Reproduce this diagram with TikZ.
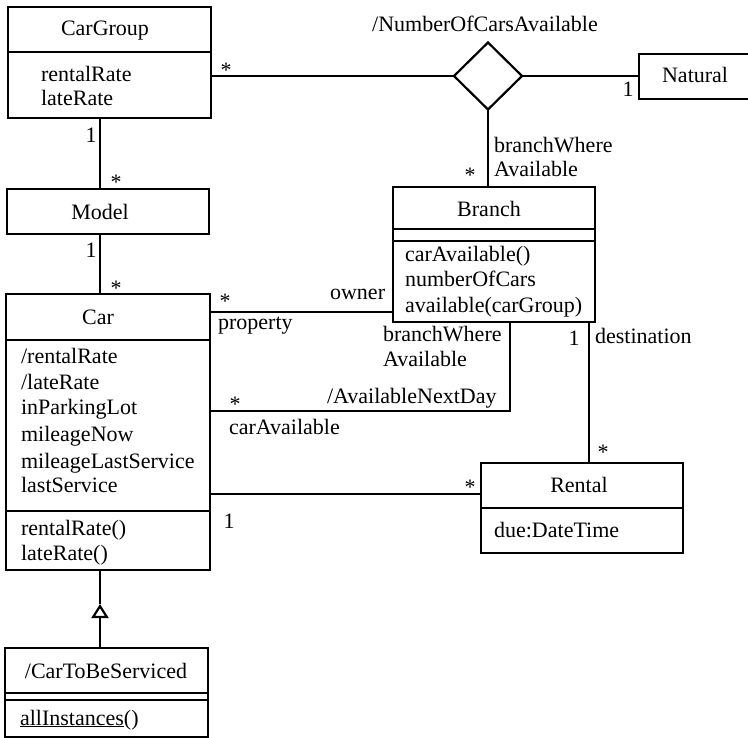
\documentclass[tikz,border=0pt]{standalone}
\usepackage{fontspec}
\setmainfont{Liberation Serif}
\usetikzlibrary{arrows.meta,shapes.geometric}
\begin{document}
\begin{tikzpicture}[x=1pt,y=-1pt, line width=2.2pt,
  font=\fontsize{22}{26}\selectfont,
  box/.style={draw, inner sep=0pt, outer sep=0pt, anchor=north west},
  tc/.style={inner sep=0pt, anchor=base},
  tl/.style={inner sep=0pt, anchor=base west},
  gen/.style={-{Triangle[open,length=14pt,width=17pt]}}]
\useasboundingbox (0,0) rectangle (748,738);

% ---------- class boxes ----------
\node[box, minimum width=203pt, minimum height=111pt] (cargroup) at (8,7) {};
\draw (cargroup.west |- 0,52) -- (cargroup.east |- 0,52);
\node[box, minimum width=202pt, minimum height=45pt] (model) at (7,189) {};
\node[box, minimum width=204pt, minimum height=276pt] (car) at (6,294) {};
\draw (car.west |- 0,340) -- (car.east |- 0,340);
\draw (car.west |- 0,511) -- (car.east |- 0,511);
\node[box, minimum width=203pt, minimum height=89pt] (cts) at (5,648) {};
\draw (cts.west |- 0,693) -- (cts.east |- 0,693);
\draw (cts.west |- 0,700) -- (cts.east |- 0,700);
\node[box, minimum width=202pt, minimum height=135pt] (branch) at (393,187) {};
\draw (branch.west |- 0,229) -- (branch.east |- 0,229);
\draw (branch.west |- 0,241) -- (branch.east |- 0,241);
\node[box, minimum width=202pt, minimum height=90pt] (rental) at (481,463) {};
\draw (rental.west |- 0,508) -- (rental.east |- 0,508);
\node[box, minimum width=125pt, minimum height=45pt] (natural) at (639,54) {};
\node[draw, diamond, inner sep=0pt, outer sep=0pt, minimum width=68pt, minimum height=67pt] (nca) at (488,76) {};

% ---------- texts in boxes ----------
\node[tc] (cgname) at (105,36) {CarGroup};
\node[tl] (cga1) at (40,82) {rentalRate};
\node[tl] (cga2) at (40,106) {lateRate};
\node[tc] (modelname) at (100,220) {Model};
\node[tc] (carname) at (98,325) {Car};
\node[tl] (ca1) at (20,364) {/rentalRate};
\node[tl] (ca2) at (20,390) {/lateRate};
\node[tl] (ca3) at (20,415) {inParkingLot};
\node[tl] (ca4) at (20,442) {mileageNow};
\node[tl] (ca5) at (20,468) {mileageLastService};
\node[tl] (ca6) at (20,493) {lastService};
\node[tl] (co1) at (20,535) {rentalRate()};
\node[tl] (co2) at (20,560) {lateRate()};
\node[tc] (ctsname) at (106,678) {/CarToBeServiced};
\node[tl] (ctso1) at (19,725) {\underline{allInstances}()};
\node[tc] (branchname) at (489,217) {Branch};
\node[tl] (bo1) at (404,262) {carAvailable()};
\node[tl] (bo2) at (404,287) {numberOfCars};
\node[tl] (bo3) at (404,313) {available(carGroup)};
\node[tc] (rentalname) at (579,492) {Rental};
\node[tl] (ra1) at (493,537) {due:DateTime};
\node[tl] (naturalname) at (661,83) {Natural};
\node[tc] (ncaname) at (485,32) {/NumberOfCarsAvailable};

% ---------- connectors ----------
\coordinate (spine) at (100,0);
\draw (spine |- cargroup.south) -- (spine |- model.north);
\draw (spine |- model.south) -- (spine |- car.north);
\coordinate (gtip) at (100,604);
\draw[gen] (spine |- cts.north) -- (gtip);
\draw (gtip) -- (spine |- car.south);
\draw (nca.west) -- (nca.west -| cargroup.east);
\draw (nca.east) -- (nca.east -| natural.west);
\draw (nca.south) -- (nca.south |- branch.north);
\coordinate (own) at (0,312);
\draw (own -| car.east) -- (own -| branch.west);
\coordinate (ndc) at (510,411);
\draw (ndc |- branch.south) -- (ndc) -- (ndc -| car.east);
\coordinate (dst) at (589,0);
\draw (dst |- branch.south) -- (dst |- rental.north);
\coordinate (cr) at (0,494);
\draw (cr -| car.east) -- (cr -| rental.west);

% ---------- association labels ----------
\node[tc] (m1) at (91,143) {1};
\node[tc] (m2) at (116,190) {*};
\node[tc] (m3) at (91,258) {1};
\node[tc] (m4) at (116,296) {*};
\node[tc] (m5) at (226,78) {*};
\node[tc] (m6) at (628,97) {1};
\node[tl] (bwa1) at (493,153) {branchWhere};
\node[tl] (bwa2) at (493,177) {Available};
\node[tc] (m7) at (470,183) {*};
\node[tc] (m8) at (225,309) {*};
\node[tl] (ownerlbl) at (329,300) {owner};
\node[tl] (proplbl) at (217,330) {property};
\node[tl] (bwb1) at (382,342) {branchWhere};
\node[tl] (bwb2) at (382,367) {Available};
\node[tl] (andlbl) at (326,404) {/AvailableNextDay};
\node[tc] (m9) at (235,411) {*};
\node[tl] (cavlbl) at (228,435) {carAvailable};
\node[tc] (m10) at (574,346) {1};
\node[tl] (destlbl) at (594,344) {destination};
\node[tc] (m11) at (603,459) {*};
\node[tc] (m12) at (470,494) {*};
\node[tc] (m13) at (229,528) {1};
\end{tikzpicture}
\end{document}
